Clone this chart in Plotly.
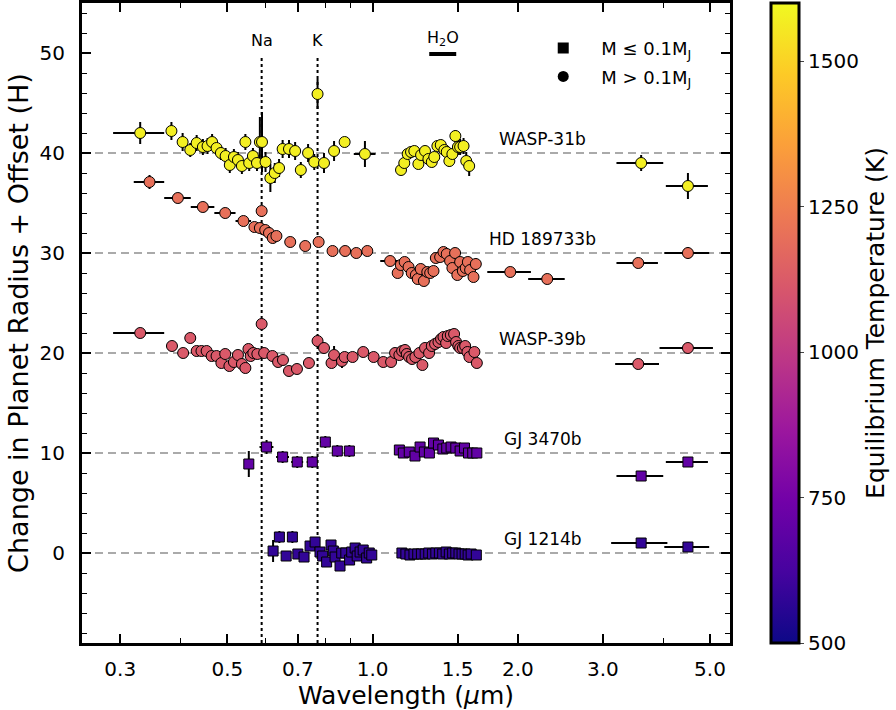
import math
import plotly.graph_objects as go

FONT = "DejaVu Sans"

# ---------------- data ----------------
offsets = [0, 10, 20, 30, 40]
planet_names = ["GJ 1214b", "GJ 3470b", "WASP-39b", "HD 189733b", "WASP-31b"]
planet_teq = [580, 700, 1120, 1200, 1575]
planet_low_mass = [True, True, False, False, False]

# WASP-31b
w31_wl = [0.330, 0.383, 0.404, 0.419, 0.432, 0.445, 0.455, 0.465, 0.475, 0.485, 0.496, 0.506,
          0.516, 0.526, 0.536, 0.545, 0.555, 0.565, 0.576, 0.584, 0.590, 0.600, 0.614, 0.627,
          0.640, 0.651, 0.671, 0.691, 0.710, 0.735, 0.757, 0.769, 0.793, 0.832, 0.875, 0.964,
          1.145, 1.163, 1.182, 1.201, 1.220, 1.244, 1.260, 1.284, 1.305, 1.326, 1.342, 1.362,
          1.384, 1.408, 1.424, 1.442, 1.463, 1.484, 1.502, 1.518, 1.543, 1.563, 1.585,
          3.60, 4.50]
w31_dr = [42.0, 42.2, 41.1, 40.3, 41.0, 40.6, 40.7, 41.1, 40.5, 40.0, 39.7, 38.8,
          39.6, 39.3, 38.7, 41.1, 39.0, 39.7, 39.0, 41.1, 41.1, 39.1, 37.5, 38.0,
          38.5, 40.4, 40.4, 40.2, 38.3, 40.0, 39.1, 45.9, 39.0, 40.2, 41.1, 39.9,
          38.3, 39.0, 39.9, 40.1, 40.2, 38.9, 39.8, 40.2, 39.4, 39.1, 39.6, 40.7,
          40.8, 40.3, 40.1, 39.2, 39.9, 41.7, 40.6, 40.6, 40.7, 39.2, 38.7,
          39.0, 36.7]
w31_yerr = [1.1, 0.9, 0.9, 0.7, 0.8, 0.8, 0.8, 0.8, 0.7, 0.7, 0.8, 0.8,
            0.8, 0.8, 0.8, 0.8, 0.8, 0.8, 0.8, 2.5, 3.0, 1.0, 1.4, 1.0,
            0.9, 0.9, 0.9, 0.9, 0.8, 0.9, 0.8, 1.5, 1.0, 1.0, 0.5, 1.3,
            0.4, 0.4, 0.4, 0.4, 0.4, 0.4, 0.4, 0.5, 0.5, 0.5, 0.5, 0.5,
            0.5, 0.5, 0.5, 0.6, 0.5, 0.6, 0.8, 0.8, 0.8, 0.9, 1.0,
            0.8, 1.3]
w31_xerr = [0.040, 0.006, 0.0, 0.0, 0.0, 0.0, 0.0, 0.0, 0.0, 0.0, 0.0, 0.0,
            0.0, 0.0, 0.0, 0.0, 0.0, 0.0, 0.0, 0.0, 0.0, 0.0, 0.0, 0.0,
            0.0, 0.0, 0.0, 0.0, 0.0, 0.0, 0.0, 0.0, 0.0, 0.0, 0.0, 0.050,
            0.0, 0.0, 0.0, 0.0, 0.0, 0.0, 0.0, 0.0, 0.0, 0.0, 0.0, 0.0,
            0.0, 0.0, 0.0, 0.0, 0.0, 0.0, 0.0, 0.0, 0.0, 0.0, 0.0,
            0.40, 0.45]

# HD 189733b
hd_wl = [0.345, 0.395, 0.445, 0.495, 0.540, 0.569, 0.589, 0.584, 0.599, 0.610, 0.621, 0.632,
         0.675, 0.725, 0.773, 0.826, 0.877, 0.925, 0.975, 1.087,
         1.127, 1.144, 1.165, 1.187, 1.205, 1.229, 1.240, 1.258, 1.277, 1.298, 1.316, 1.337,
         1.352, 1.380, 1.402, 1.424, 1.447, 1.463, 1.482, 1.498, 1.518, 1.538, 1.559, 1.575,
         1.592, 1.618, 1.636,
         1.928, 2.30, 3.55, 4.50]
hd_dr = [37.1, 35.5, 34.6, 34.0, 33.2, 32.6, 34.2, 32.5, 32.3, 32.0, 31.5, 31.7,
         31.1, 30.7, 31.1, 30.2, 30.2, 30.0, 30.2, 29.2,
         28.0, 28.8, 29.1, 28.6, 28.0, 27.8, 27.4, 28.4, 27.2, 28.1, 28.0, 28.2,
         29.5, 29.6, 30.1, 29.9, 29.2, 28.5, 30.0, 27.8, 29.1, 28.2, 28.5, 29.1,
         28.3, 27.6, 28.9,
         28.1, 27.4, 29.0, 30.0]
hd_yerr = [0.7, 0.3, 0.3, 0.3, 0.3, 0.3, 0.4, 0.3, 0.3, 0.3, 0.4, 0.3,
           0.2, 0.2, 0.3, 0.2, 0.2, 0.2, 0.2, 0.3,
           0.3, 0.3, 0.3, 0.3, 0.3, 0.3, 0.3, 0.3, 0.3, 0.3, 0.3, 0.3,
           0.3, 0.3, 0.4, 0.3, 0.3, 0.3, 0.3, 0.3, 0.3, 0.3, 0.3, 0.4,
           0.4, 0.4, 0.6,
           0.2, 0.3, 0.5, 0.6]
hd_xerr = [0.025, 0.025, 0.025, 0.025, 0.020, 0.010, 0.0, 0.010, 0.0, 0.0, 0.0, 0.0,
           0.015, 0.015, 0.015, 0.0, 0.0, 0.0, 0.0, 0.050,
           0.0, 0.0, 0.0, 0.0, 0.0, 0.0, 0.0, 0.0, 0.0, 0.0, 0.0, 0.0,
           0.0, 0.0, 0.0, 0.0, 0.0, 0.0, 0.0, 0.0, 0.0, 0.0, 0.0, 0.0,
           0.0, 0.0, 0.0,
           0.20, 0.20, 0.35, 0.48]

# WASP-39b
w39_wl = [0.330, 0.384, 0.405, 0.419, 0.432, 0.442, 0.453, 0.464, 0.475, 0.486, 0.495, 0.505,
          0.516, 0.526, 0.536, 0.545, 0.553, 0.559, 0.566, 0.577, 0.589, 0.596, 0.620, 0.637,
          0.652, 0.671, 0.697, 0.738, 0.769, 0.793, 0.822, 0.832, 0.864, 0.875, 0.909, 0.956,
          1.005, 1.052, 1.092,
          1.113, 1.136, 1.151, 1.167, 1.177, 1.190, 1.207, 1.226, 1.250, 1.268, 1.284, 1.309,
          1.326, 1.347, 1.369, 1.386, 1.402, 1.420, 1.431, 1.452, 1.475, 1.489, 1.505, 1.518,
          1.538, 1.555, 1.572, 1.587, 1.625, 1.644,
          3.55, 4.50]
w39_dr = [22.0, 20.7, 20.0, 21.5, 20.2, 20.2, 20.2, 19.7, 19.7, 19.0, 19.9, 18.7,
          19.1, 19.8, 18.9, 18.5, 20.4, 19.7, 20.0, 19.9, 22.9, 20.0, 19.7, 19.1,
          19.3, 18.2, 18.4, 19.0, 21.2, 20.5, 19.0, 19.8, 19.2, 19.6, 19.6, 20.1,
          19.6, 19.1, 19.1,
          20.0, 19.8, 20.2, 20.3, 19.9, 19.6, 19.4, 19.6, 20.0, 18.8, 20.5, 20.0,
          20.7, 20.9, 21.1, 21.4, 21.6, 21.0, 21.7, 21.8, 21.9, 21.1, 20.7, 20.5,
          20.5, 20.7, 20.1, 19.6, 20.1, 19.0,
          18.9, 20.5]
w39_yerr = [0.5, 0.5, 0.3, 0.5, 0.3, 0.3, 0.3, 0.3, 0.3, 0.3, 0.3, 0.3,
            0.3, 0.3, 0.3, 0.3, 0.3, 0.3, 0.3, 0.3, 0.5, 0.3, 0.3, 0.3,
            0.3, 0.3, 0.3, 0.3, 0.6, 0.3, 0.3, 0.9, 0.7, 0.3, 0.3, 0.3,
            0.3, 0.3, 0.3,
            0.2, 0.2, 0.2, 0.2, 0.2, 0.2, 0.2, 0.2, 0.2, 0.2, 0.2, 0.2,
            0.2, 0.2, 0.2, 0.2, 0.2, 0.2, 0.2, 0.2, 0.2, 0.2, 0.2, 0.2,
            0.2, 0.2, 0.2, 0.2, 0.2, 0.2,
            0.3, 0.3]
w39_xerr = [0.040, 0.010, 0.0, 0.0, 0.0, 0.0, 0.0, 0.0, 0.0, 0.0, 0.0, 0.0,
            0.0, 0.0, 0.010, 0.0, 0.0, 0.0, 0.0, 0.0, 0.0, 0.0, 0.0, 0.0,
            0.0, 0.0, 0.0, 0.015, 0.010, 0.0, 0.0, 0.0, 0.0, 0.0, 0.0, 0.0,
            0.0, 0.0, 0.0,
            0.0, 0.0, 0.0, 0.0, 0.0, 0.0, 0.0, 0.0, 0.0, 0.0, 0.0, 0.0,
            0.0, 0.0, 0.0, 0.0, 0.0, 0.0, 0.0, 0.0, 0.0, 0.0, 0.0, 0.0,
            0.0, 0.0, 0.0, 0.0, 0.0, 0.0,
            0.37, 0.57]

# GJ 3470b
g3470_wl = [0.554, 0.603, 0.651, 0.698, 0.750, 0.798, 0.845, 0.895,
            1.136, 1.158, 1.191, 1.224, 1.254, 1.280, 1.311, 1.337, 1.369, 1.398, 1.424,
            1.454, 1.487, 1.518, 1.550, 1.580, 1.612, 1.644,
            3.60, 4.50]
g3470_dr = [8.9, 10.6, 9.6, 9.1, 9.1, 11.1, 10.2, 10.2,
            10.3, 10.0, 10.1, 9.7, 10.6, 10.1, 10.0, 11.0, 10.8, 10.4, 10.5,
            10.6, 10.5, 10.2, 10.5, 10.0, 10.0, 10.0,
            7.7, 9.1]
g3470_yerr = [1.3, 0.7, 0.6, 0.6, 0.6, 0.6, 0.6, 0.6,
              0.2, 0.2, 0.2, 0.2, 0.2, 0.2, 0.2, 0.2, 0.2, 0.2, 0.2,
              0.2, 0.2, 0.2, 0.2, 0.2, 0.2, 0.2,
              0.3, 0.3]
g3470_xerr = [0.012, 0.020, 0.020, 0.020, 0.020, 0.020, 0.020, 0.020,
              0.0, 0.0, 0.0, 0.0, 0.0, 0.0, 0.0, 0.0, 0.0, 0.0, 0.0,
              0.0, 0.0, 0.0, 0.0, 0.0, 0.0, 0.0,
              0.40, 0.45]

# GJ 1214b
g1214_wl = [0.622, 0.641, 0.662, 0.682, 0.700, 0.721, 0.742, 0.760, 0.778, 0.788, 0.803, 0.820,
            0.829, 0.836, 0.856, 0.863, 0.880, 0.896, 0.905, 0.920, 0.929, 0.942, 0.956, 0.972,
            0.984, 0.996,
            1.150, 1.172, 1.195, 1.218, 1.240, 1.262, 1.285, 1.307, 1.330, 1.352, 1.375, 1.397,
            1.420, 1.442, 1.465, 1.487, 1.510, 1.532, 1.555, 1.577, 1.600, 1.640,
            3.60, 4.50]
g1214_dr = [0.2, 1.6, -0.3, 1.6, -0.1, -0.4, 0.7, 1.1, 0.1, -0.3, -0.9, 0.8,
            0.2, -0.4, -1.3, 0.0, 0.0, -0.7, 0.1, 0.5, -0.3, 0.1, 0.3, -0.5,
            0.0, -0.2,
            0.0, -0.1, -0.2, -0.1, -0.1, -0.1, -0.1, 0.0, -0.1, 0.0, 0.0, -0.1,
            0.1, -0.1, 0.0, 0.0, -0.1, -0.1, -0.1, -0.2, -0.1, -0.2,
            1.0, 0.6]
g1214_yerr = [1.1, 0.6, 0.5, 0.6, 0.5, 0.5, 0.5, 0.5, 0.5, 0.5, 0.5, 0.5,
              0.5, 0.5, 0.5, 0.5, 0.5, 0.5, 0.5, 0.5, 0.5, 0.5, 0.5, 0.5,
              0.5, 0.5,
              0.2, 0.2, 0.2, 0.2, 0.2, 0.2, 0.2, 0.2, 0.2, 0.2, 0.2, 0.2,
              0.2, 0.2, 0.2, 0.2, 0.2, 0.2, 0.2, 0.2, 0.2, 0.2,
              0.4, 0.4]
g1214_xerr = [0.0] * 26 + [0.0] * 22 + [0.48, 0.48]

series_wl = [g1214_wl, g3470_wl, w39_wl, hd_wl, w31_wl]
series_dr = [g1214_dr, g3470_dr, w39_dr, hd_dr, w31_dr]
series_yerr = [g1214_yerr, g3470_yerr, w39_yerr, hd_yerr, w31_yerr]
series_xerr = [g1214_xerr, g3470_xerr, w39_xerr, hd_xerr, w31_xerr]

# reference lines / labels
line_names = ["Na", "K"]
line_wl = [0.589, 0.769]
h2o_band = [1.31, 1.49]

x_tickvals = [0.3, 0.5, 0.7, 1.0, 1.5, 2.0, 3.0, 5.0]
x_ticktext = ["0.3", "0.5", "0.7", "1.0", "1.5", "2.0", "3.0", "5.0"]
x_minor = [0.4, 0.6, 0.8, 0.9, 4.0]
x_range = [0.25, 5.5]
y_range = [-9, 55]
teq_range = [500, 1600]
cbar_ticks = [500, 750, 1000, 1250, 1500]

# ---------------- figure ----------------
fig = go.Figure()

for i, name in enumerate(planet_names):
    n = len(series_wl[i])
    fig.add_trace(go.Scatter(
        x=series_wl[i], y=series_dr[i], mode="markers", name=name, showlegend=False,
        marker=dict(
            symbol="square" if planet_low_mass[i] else "circle",
            size=10 if planet_low_mass[i] else 11,
            color=[planet_teq[i]] * n, colorscale="Plasma",
            cmin=teq_range[0], cmax=teq_range[1],
            line=dict(color="black", width=1),
            showscale=(i == 0),
            colorbar=dict(
                x=(771 - 82) / 648, xanchor="left", xref="paper", xpad=0, ypad=0,
                y=0.5, yanchor="middle", len=1.0, lenmode="fraction",
                thickness=28, outlinewidth=3, outlinecolor="black",
                tickvals=cbar_ticks, ticks="outside", ticklen=4,
                tickfont=dict(family=FONT, size=20, color="black"),
                title=dict(text="Equilibrium Temperature (K)", side="right",
                           font=dict(family=FONT, size=25, color="black")),
            ),
        ),
        error_y=dict(type="data", array=series_yerr[i], color="black", thickness=2, width=0),
        error_x=dict(type="data", array=series_xerr[i], color="black", thickness=2, width=0),
    ))

# legend entries
fig.add_trace(go.Scatter(x=[None], y=[None], mode="markers", name="M ≤ 0.1M<sub>J</sub>",
                         legendgroup="a",
                         marker=dict(symbol="square", size=11, color="black")))
fig.add_trace(go.Scatter(x=[None], y=[None], mode="markers", name="M > 0.1M<sub>J</sub>",
                         legendgroup="b",
                         marker=dict(symbol="circle", size=11, color="black")))

shapes = []
for off in offsets:
    shapes.append(dict(type="line", xref="paper", x0=0, x1=1, yref="y", y0=off, y1=off,
                       layer="below", line=dict(color="#aaaaaa", width=2, dash="8px,5px")))
for wl in line_wl:
    shapes.append(dict(type="line", xref="x", x0=wl, x1=wl, yref="y", y0=y_range[0], y1=49.8,
                       layer="below", line=dict(color="black", width=2, dash="dot")))
shapes.append(dict(type="line", xref="x", x0=h2o_band[0], x1=h2o_band[1], yref="y",
                   y0=49.9, y1=49.9, line=dict(color="black", width=4)))

annotations = []
for nm, wl in zip(line_names, line_wl):
    annotations.append(dict(x=math.log10(wl), y=51.3, xref="x", yref="y", text=nm,
                            showarrow=False, font=dict(family=FONT, size=16, color="black")))
annotations.append(dict(x=math.log10(sum(h2o_band) / 2), y=51.5, xref="x", yref="y",
                        text="H<sub>2</sub>O", showarrow=False,
                        font=dict(family=FONT, size=16, color="black")))
for nm, off in zip(planet_names, offsets):
    annotations.append(dict(x=math.log10(2.25), y=off + 1.45, xref="x", yref="y", text=nm,
                            showarrow=False, font=dict(family=FONT, size=17, color="black")))

fig.update_layout(
    width=896, height=710,
    margin=dict(l=82, r=166, t=3, b=67, autoexpand=False),
    paper_bgcolor="white", plot_bgcolor="white",
    font=dict(family=FONT, color="black"),
    shapes=shapes, annotations=annotations,
    showlegend=True,
    legend=dict(x=0.684, y=0.958, xanchor="left", yanchor="top", bgcolor="rgba(0,0,0,0)",
                font=dict(family=FONT, size=18, color="black"), itemwidth=66,
                tracegroupgap=2, traceorder="grouped"),
    xaxis=dict(
        type="log", range=[math.log10(x_range[0]), math.log10(x_range[1])],
        tickvals=x_tickvals, ticktext=x_ticktext, ticks="inside", ticklen=9, tickwidth=1.5,
        tickcolor="black", showline=True, linewidth=3, linecolor="black", mirror="ticks",
        showgrid=False, zeroline=False, ticklabelstandoff=6,
        tickfont=dict(family=FONT, size=20, color="black"),
        minor=dict(tickvals=x_minor, ticks="inside", ticklen=5, tickwidth=1.2,
                   tickcolor="black", showgrid=False),
        title=dict(text="Wavelength (<i>μ</i>m)", font=dict(family=FONT, size=25, color="black"),
                   standoff=6),
    ),
    yaxis=dict(
        range=y_range, tickmode="linear", tick0=0, dtick=10, ticks="inside", ticklen=9,
        tickwidth=1.5, tickcolor="black", showline=True, linewidth=3, linecolor="black",
        mirror="ticks", showgrid=False, zeroline=False, ticklabelstandoff=10,
        tickfont=dict(family=FONT, size=20, color="black"),
        minor=dict(dtick=2, ticks="inside", ticklen=5, tickwidth=1.2, tickcolor="black",
                   showgrid=False),
        title=dict(text="Change in Planet Radius + Offset (H)",
                   font=dict(family=FONT, size=27, color="black"), standoff=4),
    ),
)

fig.write_html("out.html",
               config={"displayModeBar": False},
               post_script="document.body.style.margin='0px';"
                           "document.body.style.overflow='hidden';")
